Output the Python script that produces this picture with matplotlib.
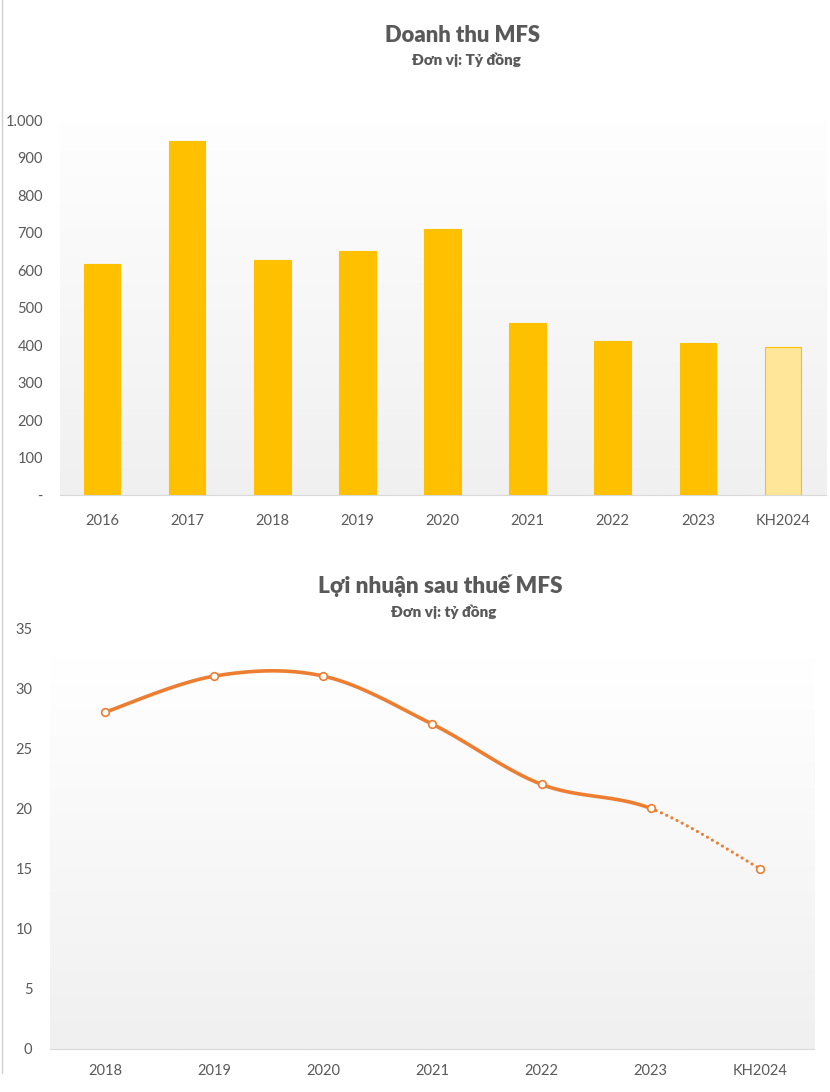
import numpy as np
import matplotlib
matplotlib.use("Agg")
from matplotlib import pyplot as plt
from matplotlib.ticker import FuncFormatter

plt.rcParams['font.family'] = ['Lato', 'DejaVu Sans']

# doanh thu (ty dong)
rev_years = ['2016', '2017', '2018', '2019', '2020', '2021', '2022', '2023', 'KH2024']
rev_values = [616, 944, 627, 651, 709, 459, 411, 405, 395]

# loi nhuan sau thue (ty dong)
np_years = ['2018', '2019', '2020', '2021', '2022', '2023', 'KH2024']
np_values = [28, 31, 31, 27, 22, 20, 15]

GREY = '#595959'
ORANGE = '#ED7D31'


def gradient(ax, top=1.0):
    g = np.linspace(1.0, 0.0, 256).reshape(-1, 1)
    ax.imshow(g, cmap=plt.matplotlib.colors.LinearSegmentedColormap.from_list(
        'g', ['#f0f0f0', '#ffffff']), aspect='auto', extent=(0, 1, 0, top),
        transform=ax.transAxes, zorder=0, vmin=0, vmax=1)


def smooth(x, y, n=40):
    # excel-like bezier smoothing
    x = np.asarray(x, float)
    y = np.asarray(y, float)
    xs, ys = [], []
    for i in range(len(x) - 1):
        p0 = np.array([x[max(i - 1, 0)], y[max(i - 1, 0)]])
        p1 = np.array([x[i], y[i]])
        p2 = np.array([x[i + 1], y[i + 1]])
        p3 = np.array([x[min(i + 2, len(x) - 1)], y[min(i + 2, len(x) - 1)]])
        c1 = p1 + (p2 - p0) / 6.0
        c2 = p2 - (p3 - p1) / 6.0
        t = np.linspace(0, 1, n)[:, None]
        b = ((1 - t) ** 3) * p1 + 3 * ((1 - t) ** 2) * t * c1 + 3 * (1 - t) * t ** 2 * c2 + t ** 3 * p2
        xs.append(b[:, 0])
        ys.append(b[:, 1])
    return xs, ys


fig = plt.figure(figsize=(8.3, 10.92), dpi=100)

# ---- top chart
ax1 = fig.add_axes([0.0717, 0.5467, 0.923, 0.3434])
gradient(ax1, top=1.06)
xr = np.arange(len(rev_years))
colors = ['#FFC000'] * (len(rev_years) - 1) + ['#FFE699']
edges = ['#FFC000'] * len(rev_years)
ax1.bar(xr, rev_values, width=0.43, color=colors, edgecolor=edges, linewidth=0.8, zorder=2)
ax1.set_xlim(-0.5, len(rev_years) - 0.5)
ax1.set_ylim(0, 1000)
ax1.set_yticks(np.arange(0, 1001, 100))
ax1.yaxis.set_major_formatter(FuncFormatter(
    lambda v, p: '-' if v == 0 else '{:,.0f}'.format(v).replace(',', '.')))
ax1.set_xticks(xr)
ax1.set_xticklabels(rev_years)
ax1.tick_params(axis='y', length=0, pad=12, labelsize=10.5, labelcolor=GREY)
ax1.tick_params(axis='x', length=0, pad=14, labelsize=10.5, labelcolor=GREY)
for s in ['top', 'right', 'left']:
    ax1.spines[s].set_visible(False)
ax1.spines['bottom'].set_color('#d9d9d9')
ax1.spines['bottom'].set_zorder(3)
fig.text(0.557, 1 - 35 / 1092, 'Doanh thu MFS', ha='center', va='center',
         fontsize=15.8, fontweight='heavy', color=GREY)
fig.text(0.562, 1 - 60 / 1092, 'Đơn vị: Tỷ đồng', ha='center', va='center',
         fontsize=11, fontweight='heavy', color=GREY)

# ---- bottom chart
ax2 = fig.add_axes([0.0608, 0.0394, 0.9205, 0.3855])
gradient(ax2, top=0.93)
xp = np.arange(len(np_years))
sx, sy = smooth(xp, np_values)
for i in range(len(sx)):
    if i == len(sx) - 1:
        # plan year drawn dotted
        ax2.plot(sx[i], sy[i], color=ORANGE, lw=2.3, linestyle=(0, (0.01, 1.8)),
                 dash_capstyle='round', zorder=3)
    else:
        ax2.plot(sx[i], sy[i], color=ORANGE, lw=2.6, solid_capstyle='round', zorder=3)
ax2.plot(xp, np_values, linestyle='none', marker='o', markersize=5.5,
         markerfacecolor='white', markeredgecolor=ORANGE, markeredgewidth=1.2, zorder=4)
ax2.set_xlim(-0.5, len(np_years) - 0.5)
ax2.set_ylim(0, 35)
ax2.set_yticks(np.arange(0, 36, 5))
ax2.set_xticks(xp)
ax2.set_xticklabels(np_years)
ax2.tick_params(axis='y', length=0, pad=13, labelsize=10.5, labelcolor=GREY)
ax2.tick_params(axis='x', length=0, pad=11, labelsize=10.5, labelcolor=GREY)
for s in ['top', 'right', 'left']:
    ax2.spines[s].set_visible(False)
ax2.spines['bottom'].set_color('#d9d9d9')
fig.text(0.530, 1 - 586 / 1092, 'Lợi nhuận sau thuế MFS', ha='center', va='center',
         fontsize=16.2, fontweight='heavy', color=GREY)
fig.text(0.534, 1 - 612 / 1092, 'Đơn vị: tỷ đồng', ha='center', va='center',
         fontsize=11, fontweight='heavy', color=GREY)

# thin border on the left like the source screenshot
fig.add_artist(plt.Line2D([0.002, 0.002], [1 - 1073 / 1092, 1.0], color='#d0d0d0', lw=1))

fig.savefig('out.png', dpi=100)
